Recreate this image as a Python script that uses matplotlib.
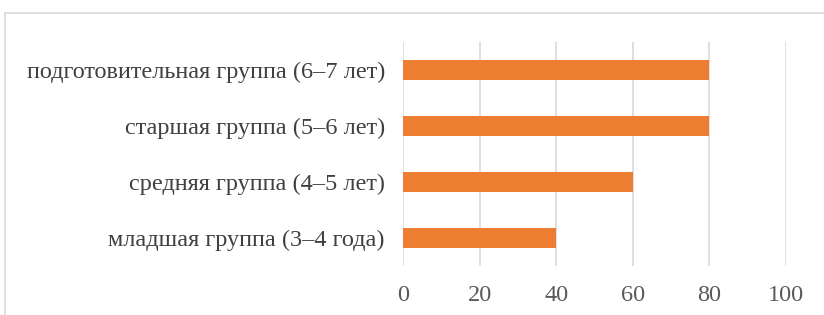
import matplotlib.pyplot as plt
from matplotlib.patches import Rectangle

categories = [
    "младшая группа (3–4 года)",
    "средняя группа (4–5 лет)",
    "старшая группа (5–6 лет)",
    "подготовительная группа (6–7 лет)",
]
values = [40, 60, 80, 80]
x_ticks = [0, 20, 40, 60, 80, 100]

plt.rcParams["font.family"] = ["Liberation Serif", "DejaVu Serif"]

fig = plt.figure(figsize=(8.24, 3.15), dpi=100)
ax = fig.add_axes([403 / 824, 1 - 266 / 315, 383 / 824, 224 / 315])

ax.barh(range(len(categories)), values, height=0.36, color="#ED7D31", zorder=3)

ax.set_xlim(0, 100)
ax.set_ylim(-0.5, len(categories) - 0.5)
ax.set_xticks(x_ticks)
ax.set_yticks(range(len(categories)))
ax.set_yticklabels(categories)
ax.grid(axis="x", color="#D9D9D9", linewidth=1.2, zorder=0)
ax.tick_params(axis="x", length=0, pad=14, labelsize=17.5, labelcolor="#595959")
ax.tick_params(axis="y", length=0, pad=13, labelsize=17.5, labelcolor="#404040")
for s in ax.spines.values():
    s.set_visible(False)

# outer chart frame
fig.patches.append(Rectangle((5 / 824, -0.2), 1.2, 1.2 - 13 / 315,
                             transform=fig.transFigure, fill=False,
                             edgecolor="#D9D9D9", linewidth=1.2))

fig.savefig("out.png", dpi=100)
